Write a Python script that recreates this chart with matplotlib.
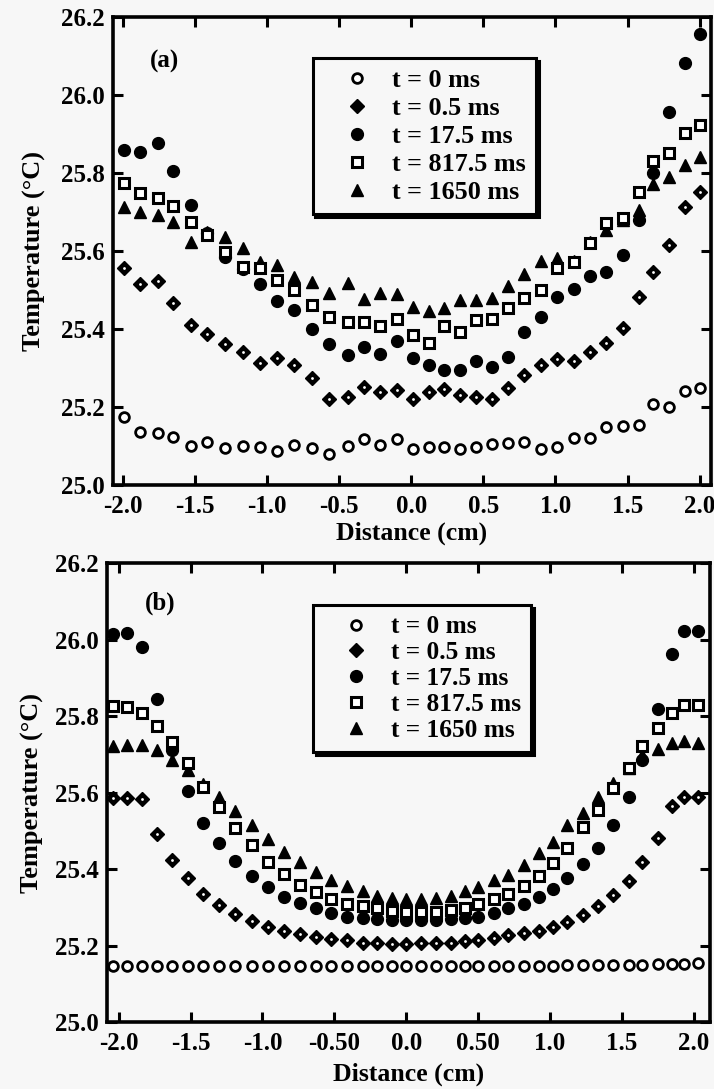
import numpy as np
import matplotlib
matplotlib.use("Agg")
import matplotlib.pyplot as plt

# ---- panel (a) : measured ----
xa = [-1.99, -1.88, -1.76, -1.65, -1.53, -1.42, -1.29, -1.17, -1.05, -0.93, -0.81, -0.69,
      -0.57, -0.44, -0.33, -0.22, -0.10, 0.01, 0.12, 0.23, 0.34, 0.45, 0.56, 0.67,
      0.78, 0.90, 1.01, 1.13, 1.24, 1.35, 1.47, 1.58, 1.68, 1.79, 1.90, 2.00]
a_t0 = [25.175, 25.135, 25.133, 25.124, 25.100, 25.111, 25.094, 25.100, 25.098, 25.088, 25.103, 25.094,
        25.079, 25.100, 25.117, 25.103, 25.117, 25.092, 25.098, 25.098, 25.092, 25.098, 25.105, 25.107,
        25.111, 25.092, 25.098, 25.121, 25.121, 25.150, 25.152, 25.154, 25.208, 25.200, 25.241, 25.249]
a_t05 = [25.556, 25.515, 25.523, 25.468, 25.410, 25.386, 25.362, 25.340, 25.314, 25.325, 25.309, 25.275,
         25.221, 25.226, 25.252, 25.238, 25.244, 25.221, 25.238, 25.246, 25.231, 25.226, 25.221, 25.248,
         25.282, 25.308, 25.323, 25.318, 25.340, 25.363, 25.402, 25.481, 25.547, 25.615, 25.712, 25.752]
a_t175 = [25.859, 25.855, 25.876, 25.805, 25.718, 25.645, 25.585, 25.555, 25.515, 25.472, 25.449, 25.399,
          25.362, 25.333, 25.353, 25.336, 25.370, 25.325, 25.309, 25.295, 25.295, 25.319, 25.302, 25.329,
          25.392, 25.430, 25.483, 25.503, 25.537, 25.547, 25.590, 25.680, 25.800, 25.957, 26.081, 26.156]
a_t8175 = [25.775, 25.750, 25.737, 25.716, 25.675, 25.640, 25.598, 25.560, 25.556, 25.526, 25.500, 25.462,
           25.432, 25.419, 25.417, 25.408, 25.426, 25.385, 25.365, 25.408, 25.393, 25.423, 25.426, 25.455,
           25.479, 25.500, 25.556, 25.572, 25.620, 25.671, 25.685, 25.752, 25.831, 25.851, 25.902, 25.923]
a_t1650 = [25.712, 25.699, 25.692, 25.675, 25.624, 25.650, 25.637, 25.608, 25.573, 25.564, 25.534, 25.521,
           25.492, 25.517, 25.476, 25.493, 25.489, 25.457, 25.446, 25.453, 25.474, 25.474, 25.479, 25.511,
           25.541, 25.575, 25.581, 25.575, 25.624, 25.654, 25.679, 25.705, 25.772, 25.789, 25.821, 25.842]

# ---- panel (b) : simulated ----
xb = [-2.04, -1.94, -1.84, -1.73, -1.63, -1.52, -1.41, -1.30, -1.19, -1.07, -0.96, -0.85,
      -0.74, -0.63, -0.52, -0.41, -0.30, -0.20, -0.10, 0.00, 0.10, 0.21, 0.31, 0.41,
      0.50, 0.61, 0.71, 0.82, 0.92, 1.02, 1.12, 1.23, 1.33, 1.44, 1.55, 1.64, 1.75, 1.85, 1.93, 2.03]
b_t0 = [25.147, 25.147, 25.147, 25.147, 25.147, 25.147, 25.147, 25.147, 25.147, 25.147, 25.147, 25.147,
        25.147, 25.147, 25.147, 25.147, 25.147, 25.147, 25.147, 25.147, 25.147, 25.147, 25.147, 25.147,
        25.147, 25.147, 25.147, 25.147, 25.147, 25.147, 25.148, 25.148, 25.148, 25.149, 25.150, 25.150,
        25.151, 25.152, 25.153, 25.154]
b_t05 = [25.585, 25.585, 25.582, 25.491, 25.424, 25.376, 25.334, 25.306, 25.282, 25.265, 25.249, 25.239,
         25.229, 25.221, 25.216, 25.214, 25.207, 25.206, 25.204, 25.203, 25.206, 25.206, 25.207, 25.212,
         25.214, 25.220, 25.227, 25.232, 25.238, 25.249, 25.262, 25.280, 25.303, 25.332, 25.369, 25.418,
         25.482, 25.565, 25.589, 25.589]
b_t175 = [26.015, 26.018, 25.980, 25.844, 25.710, 25.605, 25.521, 25.467, 25.420, 25.382, 25.352, 25.328,
          25.310, 25.297, 25.286, 25.275, 25.272, 25.270, 25.268, 25.266, 25.266, 25.268, 25.270, 25.272,
          25.275, 25.284, 25.297, 25.308, 25.328, 25.347, 25.376, 25.413, 25.454, 25.515, 25.589, 25.685,
          25.818, 25.961, 26.023, 26.023]
b_t8175 = [25.825, 25.824, 25.808, 25.775, 25.731, 25.677, 25.615, 25.563, 25.506, 25.463, 25.419, 25.387,
           25.358, 25.341, 25.322, 25.308, 25.303, 25.297, 25.291, 25.288, 25.288, 25.288, 25.293, 25.299,
           25.309, 25.322, 25.334, 25.356, 25.382, 25.415, 25.454, 25.511, 25.554, 25.611, 25.663, 25.722,
           25.769, 25.807, 25.829, 25.829]
b_t1650 = [25.721, 25.725, 25.724, 25.711, 25.686, 25.660, 25.622, 25.589, 25.552, 25.515, 25.478, 25.445,
           25.419, 25.393, 25.371, 25.356, 25.343, 25.329, 25.323, 25.321, 25.321, 25.323, 25.329, 25.343,
           25.352, 25.371, 25.384, 25.410, 25.441, 25.471, 25.515, 25.546, 25.589, 25.624, 25.665, 25.697,
           25.713, 25.729, 25.735, 25.730]

labels = ["t = 0 ms", "t = 0.5 ms", "t = 17.5 ms", "t = 817.5 ms", "t = 1650 ms"]
yticks = [25.0, 25.2, 25.4, 25.6, 25.8, 26.0, 26.2]
xticks = [-2.0, -1.5, -1.0, -0.5, 0.0, 0.5, 1.0, 1.5, 2.0]
xlabels_a = ["-2.0", "-1.5", "-1.0", "-0.5", "0.0", "0.5", "1.0", "1.5", "2.0"]
xlabels_b = ["-2.0", "-1.5", "-1.0", "-0.50", "0.0", "0.50", "1.0", "1.5", "2.0"]

plt.rcParams['font.family'] = ['Liberation Serif', 'DejaVu Serif']
plt.rcParams['font.weight'] = 'bold'
bg = '#f7f7f7'

styles = [
    dict(marker='o', mfc='white', mec='k', ms=7, mew=2.0),
    dict(marker='D', mfc='k', mec='k', ms=7.5, mew=1),
    dict(marker='o', mfc='k', mec='k', ms=8.5, mew=1),
    dict(marker='s', mfc='white', mec='k', ms=7.5, mew=2.2),
    dict(marker='^', mfc='k', mec='k', ms=9, mew=1),
]
zorders = [3, 3, 3, 5, 4]


def panel(ax, x, series, xlim, xlabels, tag, tagpos, legpos, legsize, legspace, ylab_x, xlab_y):
    handles = []
    for y, st, lab, z in zip(series, styles, labels, zorders):
        h, = ax.plot(x, y, ls='none', label=lab, zorder=z, **st)
        handles.append(h)
    # small white centre in the diamonds
    ax.plot(x, series[1], ls='none', marker='o', ms=2, mfc='white', mec='white', mew=0, zorder=3.5)
    ax.set_xlim(*xlim)
    ax.set_ylim(25.0, 26.2)
    ax.set_xticks(xticks)
    ax.set_xticklabels(xlabels)
    ax.set_yticks(yticks)
    ax.set_yticklabels([f"{v:.1f}" for v in yticks])
    ax.tick_params(direction='in', top=True, right=True, length=7, width=2.2,
                   labelsize=18, pad=6)
    ax.tick_params(axis='x', pad=7)
    for s in ax.spines.values():
        s.set_linewidth(2.6)
    ax.set_facecolor(bg)
    ax.set_xlabel("Distance (cm)", fontsize=18.5, fontweight='bold')
    ax.set_ylabel("Temperature (°C)", fontsize=19, fontweight='bold')
    ax.yaxis.set_label_coords(ylab_x, 0.5)
    ax.xaxis.set_label_coords(0.5, xlab_y)
    ax.text(tagpos[0], tagpos[1], tag, transform=ax.transAxes, fontsize=18,
            fontweight='bold', ha='center', va='center')
    leg = ax.legend(handles=handles, loc='upper left', bbox_to_anchor=legpos,
                    fontsize=legsize, frameon=True, fancybox=False,
                    edgecolor='k', facecolor=bg, framealpha=1,
                    labelspacing=legspace, handletextpad=0.05, handlelength=2.6,
                    borderpad=0.4, borderaxespad=0,
                    shadow={'color': 'k', 'alpha': 1, 'ox': 2, 'oy': -2})
    leg.get_frame().set_linewidth(2.2)
    return leg


fig = plt.figure(figsize=(7.14, 10.89), dpi=100, facecolor=bg)
ax1 = fig.add_axes([0.158, 0.5546, 0.838, 0.4298])
ax2 = fig.add_axes([0.150, 0.0615, 0.844, 0.4215])

panel(ax1, xa, [a_t0, a_t05, a_t175, a_t8175, a_t1650], (-2.07, 2.08), xlabels_a,
      "(a)", (0.087, 0.904), (0.334, 0.912), 18.8, 0.18, -0.112, -0.077)
panel(ax2, xb, [b_t0, b_t05, b_t175, b_t8175, b_t1650], (-2.08, 2.11), xlabels_b,
      "(b)", (0.088, 0.913), (0.342, 0.908), 18.3, 0.11, -0.105, -0.088)

fig.savefig("out.png", dpi=100, facecolor=bg)
